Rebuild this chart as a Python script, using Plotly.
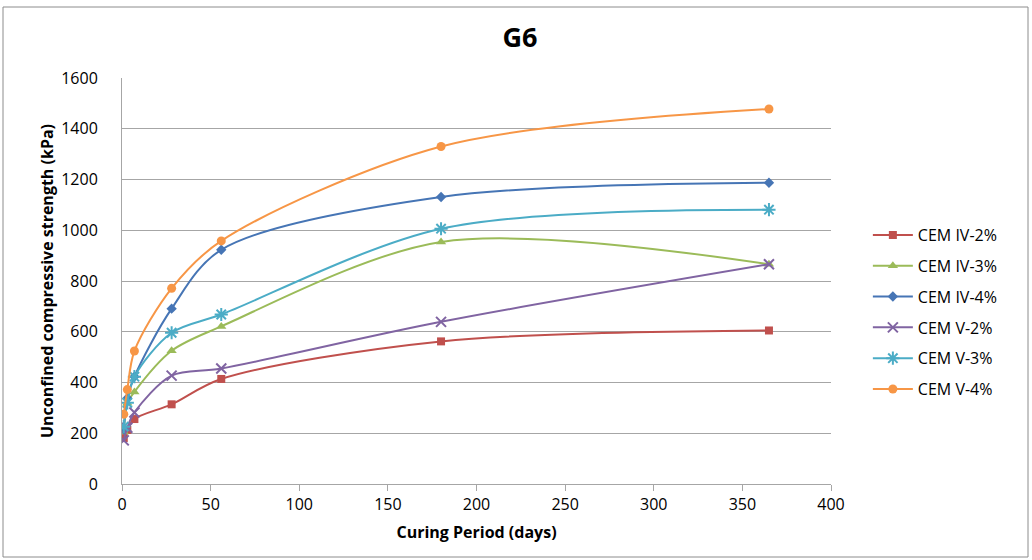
import plotly.graph_objects as go

# Curing ages (days)
days = [1, 3, 7, 28, 56, 180, 365]

# Unconfined compressive strength (kPa) for each binder mix
cem_iv_2 = [181, 213, 256, 314, 414, 562, 605]
cem_iv_3 = [205, 318, 363, 525, 621, 954, 866]
cem_iv_4 = [215, 338, 423, 691, 923, 1131, 1187]
cem_v_2 = [172, 222, 282, 427, 455, 639, 866]
cem_v_3 = [226, 320, 423, 596, 668, 1006, 1081]
cem_v_4 = [275, 372, 524, 771, 958, 1330, 1478]

series_names = ["CEM IV-2%", "CEM IV-3%", "CEM IV-4%", "CEM V-2%", "CEM V-3%", "CEM V-4%"]
series_values = [cem_iv_2, cem_iv_3, cem_iv_4, cem_v_2, cem_v_3, cem_v_4]
colors = ["#C0504D", "#9BBB59", "#4675B5", "#8064A2", "#4BACC6", "#F79646"]
symbols = ["square", "triangle-up", "diamond", "x-thin-open", "asterisk-open", "circle"]
sizes = [8, 9, 8, 10, 11, 9]

font_family = "Open Sans, Lato, DejaVu Sans, sans-serif"

fig = go.Figure()
for name, vals, col, sym, sz in zip(series_names, series_values, colors, symbols, sizes):
    open_sym = sym.endswith("open")
    fig.add_trace(go.Scatter(
        x=days, y=vals, name=name, mode="lines+markers", legendgroup=name,
        line=dict(color=col, width=2, shape="spline", smoothing=0.9),
        marker=dict(symbol=sym, size=sz, color=col,
                    line=dict(color=col, width=2 if open_sym else 0)),
    ))

fig.update_layout(
    width=1032, height=560,
    margin=dict(l=122, r=201, t=78, b=76),
    paper_bgcolor="white", plot_bgcolor="white",
    font=dict(family=font_family, color="#000000", size=16),
    title=dict(text="<b>G6</b>", x=(520 / 1032), xanchor="center",
               y=1 - 38 / 560, yanchor="middle",
               font=dict(size=27, family=font_family)),
    showlegend=True,
    legend=dict(x=1.052, y=0.655, xanchor="left", yanchor="top",
                font=dict(size=16, family=font_family),
                itemwidth=40, tracegroupgap=7, traceorder="grouped",
                bgcolor="rgba(0,0,0,0)"),
    xaxis=dict(
        range=[0, 400], dtick=50, tick0=0,
        showgrid=False, zeroline=False,
        showline=True, linecolor="#A6A6A6", linewidth=1,
        ticks="outside", ticklen=6, tickcolor="#A6A6A6",
        tickfont=dict(size=16),
        title=dict(text="<b>Curing Period (days)</b>", font=dict(size=16), standoff=12),
    ),
    yaxis=dict(
        range=[0, 1600], dtick=200, tick0=0,
        showgrid=True, gridcolor="#A6A6A6", gridwidth=1,
        zeroline=False,
        showline=True, linecolor="#A6A6A6", linewidth=1,
        ticks="", ticklabelstandoff=20,
        tickfont=dict(size=16),
        title=dict(text="<b>Unconfined compressive strength (kPa)</b>", font=dict(size=16), standoff=3),
    ),
)

# Chart frame
fig.add_shape(type="rect", xref="paper", yref="paper",
              x0=(3 - 122) / 709, x1=(1028 - 122) / 709,
              y0=(484 - 557) / 406, y1=(484 - 7) / 406,
              line=dict(color="#8C8C8C", width=1), fillcolor="rgba(0,0,0,0)", layer="below")

fig.write_html("out.html")
